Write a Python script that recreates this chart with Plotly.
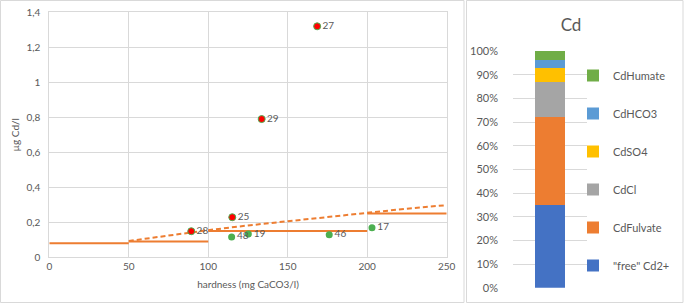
import plotly.graph_objects as go

# ---- Left chart data ----
red_hardness = [168.5, 133.6, 115.1, 89.3]
red_cd = [1.32, 0.79, 0.229, 0.149]
red_labels = ["27", "29", "25", "28"]

green_hardness = [114.7, 125.2, 176.1, 203.0]
green_cd = [0.116, 0.133, 0.129, 0.169]
green_labels = ["48", "19", "46", "17"]

eqs_from = [0, 50, 100, 200]
eqs_to = [50, 100, 200, 250]
eqs_values = [0.08, 0.09, 0.15, 0.25]

dash_hardness = [50, 75, 100, 125, 150, 175, 200, 225, 250]
dash_cd = [0.093, 0.126, 0.155, 0.182, 0.207, 0.232, 0.256, 0.278, 0.298]

# ---- Right chart data ----
species = ['"free" Cd2+', "CdFulvate", "CdCl", "CdSO4", "CdHCO3", "CdHumate"]
species_pct = [35.0, 37.0, 15.0, 6.0, 3.3, 3.7]
species_colors = ["#4472C4", "#ED7D31", "#A5A5A5", "#FFC000", "#5B9BD5", "#70AD47"]

W, H = 685, 304
FONT = "Lato"
GREY = "#595959"
GRID = "#D9D9D9"
ORANGE = "#ED7D31"
GREEN = "#4CAF50"

def px(x):
    return x / W

def py(y):
    return 1 - y / H

fig = go.Figure()

# step EQS line
sx, sy = [], []
for a, b, v in zip(eqs_from, eqs_to, eqs_values):
    sx += [a, b, None]
    sy += [v, v, None]
fig.add_trace(go.Scatter(x=sx, y=sy, mode="lines", line=dict(color=ORANGE, width=2),
                         showlegend=False, xaxis="x", yaxis="y", hoverinfo="skip"))
fig.add_trace(go.Scatter(x=dash_hardness, y=dash_cd, mode="lines",
                         line=dict(color=ORANGE, width=2, dash="5px,3px"),
                         showlegend=False, xaxis="x", yaxis="y"))
fig.add_trace(go.Scatter(x=green_hardness, y=green_cd, mode="markers+text",
                         text=green_labels, textposition="middle right",
                         textfont=dict(size=10, color=GREY, family=FONT),
                         marker=dict(color=GREEN, size=7),
                         showlegend=False, xaxis="x", yaxis="y"))
fig.add_trace(go.Scatter(x=red_hardness, y=red_cd, mode="markers+text",
                         text=red_labels, textposition="middle right",
                         textfont=dict(size=10, color=GREY, family=FONT),
                         marker=dict(color="#FF0000", size=7, line=dict(color=GREEN, width=1)),
                         showlegend=False, xaxis="x", yaxis="y"))

# stacked bar
n = len(species)
for i, (name, val, col) in enumerate(zip(species, species_pct, species_colors)):
    fig.add_trace(go.Bar(x=["Cd"], y=[val], name=name, marker=dict(color=col, line=dict(width=0)),
                         width=0.4, xaxis="x2", yaxis="y2", legendgroup=name,
                         legendrank=n - i))

fig.update_layout(
    width=W, height=H,
    margin=dict(l=0, r=0, t=0, b=0, autoexpand=False),
    paper_bgcolor="white", plot_bgcolor="white",
    separators=", ",
    font=dict(family=FONT, color=GREY, size=10),
    barmode="stack",
    title=dict(text="Cd", x=px(571), y=py(25), xref="paper", yref="paper",
               xanchor="center", yanchor="middle", automargin=False,
               font=dict(size=17, color=GREY, family=FONT)),
    xaxis=dict(domain=[px(49.3), px(446.7)], range=[0, 250], dtick=50,
               showgrid=True, gridcolor=GRID, gridwidth=1,
               showline=True, linecolor=GRID, mirror=True, zeroline=False,
               ticks="", tickfont=dict(size=10, color=GREY), automargin=False,
               title=dict(text="hardness (mg CaCO3/l)", font=dict(size=10, color=GREY), standoff=9),
               anchor="y"),
    yaxis=dict(domain=[py(257.3), py(12.3)], range=[0, 1.4], dtick=0.2,
               showgrid=True, gridcolor=GRID, gridwidth=1,
               showline=True, linecolor=GRID, mirror=True, zeroline=False,
               ticks="", tickfont=dict(size=10, color=GREY), tickformat=".1~f",
               ticklabelstandoff=6, automargin=False,
               title=dict(text="µg Cd/l", font=dict(size=10, color=GREY), standoff=4),
               anchor="x"),
    xaxis2=dict(domain=[px(513), px(587)], range=[-0.5, 0.5], showticklabels=False,
                showgrid=False, showline=False, zeroline=False, ticks="",
                type="category", anchor="y2", automargin=False),
    yaxis2=dict(domain=[py(287.7), py(51)], range=[0, 100], dtick=10, ticksuffix="%",
                showgrid=True, gridcolor=GRID, gridwidth=1, showline=False, zeroline=False,
                ticks="", tickfont=dict(size=11, color=GREY), ticklabelstandoff=14,
                anchor="x2", automargin=False),
    legend=dict(x=px(573), y=py(61), xanchor="left", yanchor="top",
                traceorder="grouped", tracegroupgap=19,
                font=dict(size=11, color=GREY, family=FONT),
                bgcolor="rgba(0,0,0,0)", itemwidth=30),
    shapes=[
        dict(type="rect", xref="paper", yref="paper",
             x0=px(0.5), x1=px(464), y0=py(302.5), y1=py(0.5),
             line=dict(color=GRID, width=1)),
        dict(type="rect", xref="paper", yref="paper",
             x0=px(466.5), x1=px(683), y0=py(302.5), y1=py(0.5),
             line=dict(color=GRID, width=1)),
    ],
)

fig.write_html("out.html", config={"displayModeBar": False},
               post_script="document.body.style.margin='0';document.body.style.overflow='hidden';")
